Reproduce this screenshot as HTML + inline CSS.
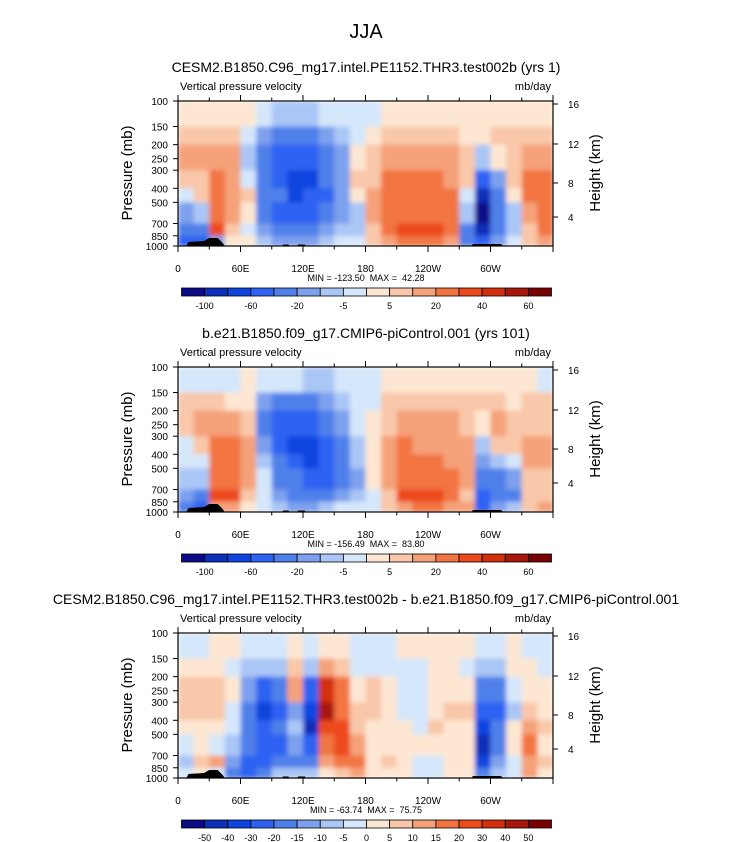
<!DOCTYPE html>
<html><head><meta charset="utf-8">
<style>
body{margin:0;background:#fff;}
svg{display:block;font-family:"Liberation Sans",Arial,sans-serif;}
</style></head>
<body>
<svg id="chart" width="732" height="842" viewBox="0 0 732 842" xmlns="http://www.w3.org/2000/svg">
<defs>
<filter id="soft" x="0" y="0" width="1" height="1"><feGaussianBlur stdDeviation="2.5" edgeMode="duplicate"/></filter>
<clipPath id="clip0"><rect x="178" y="101" width="375" height="145"/></clipPath>
<clipPath id="clip1"><rect x="178" y="367" width="375" height="145"/></clipPath>
<clipPath id="clip2"><rect x="178" y="634" width="375" height="145"/></clipPath>
</defs>
<text x="366" y="38" font-size="20" text-anchor="middle">JJA</text>
</svg>
<script>
// ---- data ----
const pressureLevels = [100,150,200,250,300,400,500,700,850,1000];
const rowBounds = [100,150,200,300,400,500,700,850,1000];
const lonStep = 15;
const xTickLabels = ["0","60E","120E","180","120W","60W"];
const xTickLons = [0,60,120,180,240,300];
const heightTicks = [16,12,8,4];
const heightTickPx = [3,43,82,116];
const levelsAbs = [-100,-80,-60,-40,-20,-10,-5,0,5,10,20,30,40,50,60];
const levelsDiff = [-50,-40,-30,-20,-15,-10,-5,0,5,10,15,20,30,40,50];
const labelsAbs = ["-100","","-60","","-20","","-5","","5","","20","","40","","60"];
const labelsDiff = ["-50","-40","-30","-20","-15","-10","-5","0","5","10","15","20","30","40","50"];
const palette = ['#0b0b88','#0a2fb8','#0d45de','#2d62f2','#4f80ea','#7da0ee','#aac6f6','#d5e7fb','#fde7d3','#f9c7a9','#f5a179','#f27442','#ec4a1c','#d2300d','#a8180a','#780000'];
// columns of 15 deg (0..360), rows top(100mb)->bottom(1000mb)
const field1 = [
[2,7,15,7,-2,-15,-30,-50],[2,7,15,7,7,-7,-30,-50],[2,7,15,25,25,25,35,-15],[2,7,15,15,15,15,7,2],
[2,-2,-7,-2,7,2,-2,2],[-2,-15,-30,-30,-30,-30,-15,-7],[-7,-30,-50,-50,-30,-50,-30,-15],[-7,-30,-50,-70,-70,-50,-30,-15],
[-7,-30,-50,-70,-50,-50,-30,-15],[-2,-15,-30,-30,-50,-30,-15,-7],[-2,-7,-15,-15,-15,-15,-7,-2],[-2,-2,2,7,2,-7,-7,-2],
[-2,2,7,7,15,15,7,7],[2,7,15,25,25,25,25,15],[2,7,15,25,25,25,35,25],[2,7,15,25,25,25,35,25],
[2,7,15,25,25,25,35,25],[2,7,15,15,25,25,25,15],[2,2,7,7,-2,-7,-30,-30],[2,2,-7,-50,-90,-130,-90,-50],
[2,7,2,-15,-30,-30,-30,-15],[2,7,7,7,2,-7,-7,-2],[2,7,15,25,25,15,7,7],[2,7,15,25,25,25,25,15]];
const field2 = [
[-2,7,7,-2,-2,-7,-15,-30],[-2,7,15,7,-2,-7,-30,-50],[-2,7,15,25,25,25,35,15],[-2,2,15,25,25,25,35,15],
[2,2,7,15,15,15,7,2],[-2,-15,-30,-15,-7,-2,-2,-2],[-2,-30,-50,-50,-30,-30,-15,-7],[-2,-30,-50,-70,-50,-30,-30,-15],
[-7,-30,-50,-70,-70,-50,-30,-15],[-7,-15,-30,-50,-50,-50,-30,-7],[-2,-7,-15,-30,-30,-30,-15,-2],[-2,-2,-2,-7,-7,-15,-7,-2],
[-2,-2,2,2,2,2,-2,-2],[2,7,7,15,15,15,7,7],[2,7,15,25,25,25,35,15],[2,7,15,15,25,25,35,25],
[2,7,15,15,25,25,35,25],[2,7,15,15,15,25,25,15],[2,7,7,15,15,15,7,15],[2,7,2,-7,-15,-30,-50,-50],
[2,7,15,7,-7,-30,-30,-15],[2,2,7,7,-2,-15,-30,-7],[2,7,7,15,15,7,7,7],[-2,7,7,15,15,7,7,15]];
const field3 = [
[-2,2,7,7,2,-2,-7,-2],[-2,2,7,7,2,2,7,2],[2,2,7,7,2,-2,12,-2],[2,-2,2,-2,-2,-7,-12,-17],
[-2,-7,-12,-17,-17,-17,-25,-25],[-2,-7,-25,-35,-25,-25,-25,-17],[-2,-7,-17,-25,-17,-25,-17,-7],[2,7,12,-12,-7,-12,-17,-7],
[-2,-7,-25,-35,-45,-25,-17,-7],[2,12,35,45,25,17,12,2],[2,7,17,17,25,25,17,7],[-2,-2,2,7,7,12,17,12],
[-2,-2,7,7,2,2,2,2],[-2,-2,2,2,2,2,7,2],[2,-2,-2,-2,2,2,2,2],[2,-2,-2,-2,-2,2,-2,-2],
[2,2,2,2,7,2,-2,-2],[2,2,2,7,2,2,2,2],[2,-2,2,7,2,2,2,2],[-2,-7,-17,-25,-35,-45,-35,-17],
[-2,-7,-17,-25,-17,-17,-12,-7],[2,2,-2,-7,2,2,-2,-2],[-2,2,2,7,12,17,12,12],[-2,-2,2,2,7,2,7,2]];
const panelTitles = ["CESM2.B1850.C96_mg17.intel.PE1152.THR3.test002b (yrs 1)","b.e21.B1850.f09_g17.CMIP6-piControl.001 (yrs 101)","CESM2.B1850.C96_mg17.intel.PE1152.THR3.test002b - b.e21.B1850.f09_g17.CMIP6-piControl.001"];
const minMax = ["MIN = -123.50\u00a0\u00a0MAX =\u00a0\u00a042.28","MIN = -156.49\u00a0\u00a0MAX =\u00a0\u00a083.80","MIN = -63.74\u00a0\u00a0MAX =\u00a0\u00a075.75"];

// ---- drawing ----
const NS="http://www.w3.org/2000/svg";
const svg=document.getElementById('chart');
const X0=178,X1=553,PH=145;
function xScale(lon){return X0+lon/360*(X1-X0);}
function yScale(p,top){return top+Math.log10(p/100)*PH;}
function colorFor(v,lev){let i=0;while(i<lev.length&&v>=lev[i])i++;return palette[i];}
function mk(tag,attrs,parent){const e=document.createElementNS(NS,tag);for(const k in attrs)e.setAttribute(k,attrs[k]);(parent||svg).appendChild(e);return e;}
function txt(x,y,s,size,anchor,parent){const t=mk('text',{x:x,y:y,'font-size':size,'text-anchor':anchor||'start'},parent);t.textContent=s;return t;}

const fields=[field1,field2,field3];
for(let k=0;k<3;k++){
  const off=266*k;const top=101+off;
  const lev=k<2?levelsAbs:levelsDiff;
  const labs=k<2?labelsAbs:labelsDiff;
  const g=mk('g',{});
  
  
  const t=txt(366,72+off,panelTitles[k],14,'middle',g);
  
  
  const vl=txt(180,90+off,'Vertical pressure velocity',11,'start',g);
  
  
  const ul=txt(551,90+off,'mb/day',11,'end',g);
  
  
  const f=fields[k];
  const clipG=mk('g',{'clip-path':`url(#clip${k})`},g);
  const cells=mk('g',{filter:'url(#soft)'},clipG);
  
  
  for(let c=0;c<f.length;c++){
    for(let r=0;r<f[c].length;r++){
      const xa=xScale(c*lonStep),xb=xScale((c+1)*lonStep);
      const ya=yScale(rowBounds[r],top),yb=yScale(rowBounds[r+1],top);
      const rc=mk('rect',{x:xa,y:ya,width:xb-xa+0.6,height:yb-ya+0.6,fill:colorFor(f[c][r],lev)},cells);
      
      
    }
  }
  // topography
  const topo=mk('path',{d:`M${xScale(8)} ${top+145} L${xScale(10)} ${top+141} L${xScale(25)} ${top+140} L${xScale(30)} ${top+137} L${xScale(38)} ${top+137} L${xScale(42)} ${top+141} L${xScale(45)} ${top+145}Z M${xScale(282)} ${top+145} L${xScale(283)} ${top+143} L${xScale(310)} ${top+143} L${xScale(312)} ${top+145}Z M${xScale(100)} ${top+145} L${xScale(101)} ${top+143.5} L${xScale(106)} ${top+143.5} L${xScale(107)} ${top+145}Z M${xScale(115)} ${top+145} L${xScale(115)} ${top+143.5} L${xScale(122)} ${top+143.5} L${xScale(122)} ${top+145}Z`,fill:'#000'},g);
  
  
  const fr=mk('rect',{x:X0,y:top,width:X1-X0,height:PH,fill:'none',stroke:'#000','stroke-width':1.2},g);
  
  
  for(let lon=0;lon<=360;lon+=30){
    const x=xScale(lon);const maj=lon%60===0;const L=maj?6:3.5;
    mk('line',{x1:x,x2:x,y1:top+PH,y2:top+PH+L,stroke:'#000'},g);
    mk('line',{x1:x,x2:x,y1:top,y2:top-L,stroke:'#000'},g);
  }
  xTickLons.forEach((lon,i)=>{const e=txt(xScale(lon),top+171,xTickLabels[i],10,'middle',g);
    
    });
  pressureLevels.forEach(p=>{const y=yScale(p,top);
    mk('line',{x1:X0,x2:X0-5,y1:y,y2:y,stroke:'#000'},g);
    const e=txt(168,y+4,String(p),10,'end',g);
    
    });
  heightTicks.forEach((h,i)=>{const y=top+heightTickPx[i];
    mk('line',{x1:X1,x2:X1+5,y1:y,y2:y,stroke:'#000'},g);
    const e=txt(568,y+4,String(h),10,'start',g);
    
    });
  const yt=txt(0,0,'Pressure (mb)',15,'middle',g);
  yt.setAttribute('transform',`translate(132,${top+72}) rotate(-90)`);
  
  
  const ht=txt(0,0,'Height (km)',15,'middle',g);
  ht.setAttribute('transform',`translate(600,${top+72}) rotate(-90)`);
  
  
  const mm=txt(366,top+180,minMax[k],9,'middle',g);
  
  
  const cb=mk('g',{},g);
  
  
  const cx0=181.5,cw=(551.5-181.5)/16,cy=top+187;
  palette.forEach((col,i)=>{const b=mk('rect',{x:cx0+i*cw,y:cy,width:cw,height:8,fill:col,stroke:'#000','stroke-width':0.8},cb);
    
    });
  labs.forEach((s,i)=>{if(!s)return;const e=txt(cx0+(i+1)*cw,cy+21,s,9,'middle',cb);
    
    });
}
</script>
</body></html>
